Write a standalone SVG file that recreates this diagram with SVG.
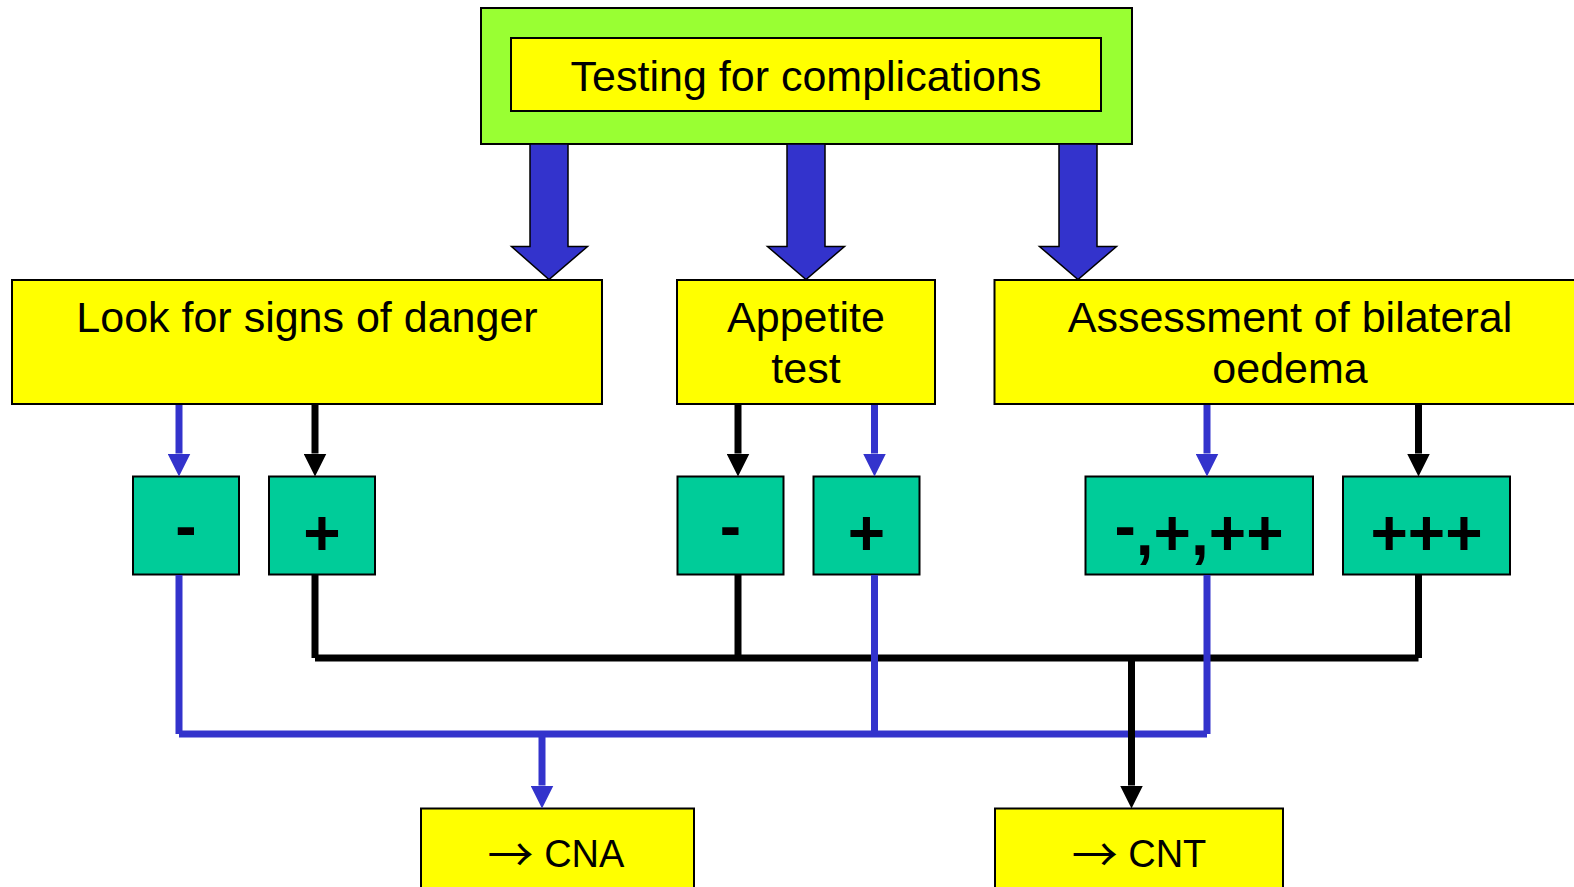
<svg xmlns="http://www.w3.org/2000/svg" width="1574" height="887" viewBox="0 0 1574 887">
  <style>
    .box { stroke: #000; stroke-width: 2; }
    .green { fill: #99FF33; }
    .yellow { fill: #FFFF00; }
    .teal { fill: #00CC99; }
    .lbl { font-family: "Liberation Sans", Arial, sans-serif; font-size: 43px; fill: #000; text-anchor: middle; }
    .sign { font-family: "Liberation Sans", Arial, sans-serif; font-size: 64px; font-weight: bold; fill: #000; text-anchor: middle; }
    .out { font-family: "Liberation Sans", Arial, sans-serif; font-size: 38px; fill: #000; text-anchor: middle; }
    .arr { font-family: "Noto Sans CJK JP", "DejaVu Sans", sans-serif; font-size: 46px; }
    .big { fill: #3333CC; stroke: #000; stroke-width: 1.5; }
    .blue { stroke: #3333CC; stroke-width: 7; fill: none; }
    .black { stroke: #000; stroke-width: 7; fill: none; }
  </style>
  <defs>
    <marker id="headBlue" markerUnits="userSpaceOnUse" markerWidth="23" markerHeight="23" viewBox="0 0 23 23" refX="0" refY="11.5" orient="auto">
      <path d="M0,0 L23,11.5 L0,23 z" fill="#3333CC"/>
    </marker>
    <marker id="headBlack" markerUnits="userSpaceOnUse" markerWidth="23" markerHeight="23" viewBox="0 0 23 23" refX="0" refY="11.5" orient="auto">
      <path d="M0,0 L23,11.5 L0,23 z" fill="#000"/>
    </marker>
  </defs>

  <rect width="1574" height="887" fill="#FFFFFF"/>

  <!-- top node -->
  <g id="testing">
    <rect class="box green" x="481" y="8" width="651" height="136"/>
    <rect class="box yellow" x="511" y="38" width="590" height="73"/>
    <text class="lbl" x="806" y="91">Testing for complications</text>
  </g>

  <!-- wide block arrows from the top node -->
  <g id="block-arrows">
    <polygon class="big" points="530,144 568,144 568,246.5 587.5,246.5 549,279.5 511.5,246.5 530,246.5"/>
    <polygon class="big" points="787,144 825,144 825,246.5 844.5,246.5 806,279.5 767.5,246.5 787,246.5"/>
    <polygon class="big" points="1059,144 1097,144 1097,246.5 1116.5,246.5 1078,279.5 1039.5,246.5 1059,246.5"/>
  </g>

  <!-- assessment nodes -->
  <g id="danger">
    <rect class="box yellow" x="12" y="280" width="590" height="124"/>
    <text class="lbl" x="307" y="332">Look for signs of danger</text>
  </g>
  <g id="appetite">
    <rect class="box yellow" x="677" y="280" width="258" height="124"/>
    <text class="lbl" x="806" y="332">Appetite</text>
    <text class="lbl" x="806" y="383">test</text>
  </g>
  <g id="oedema">
    <rect class="box yellow" x="994.5" y="280" width="592" height="124"/>
    <text class="lbl" x="1290" y="332">Assessment of bilateral</text>
    <text class="lbl" x="1290" y="383">oedema</text>
  </g>

  <!-- result nodes -->
  <g id="danger-neg">
    <rect class="box teal" x="133" y="476.5" width="106" height="98"/>
    <text class="sign" x="186" y="548">-</text>
  </g>
  <g id="danger-pos">
    <rect class="box teal" x="269" y="476.5" width="106" height="98"/>
    <text class="sign" x="322" y="555">+</text>
  </g>
  <g id="appetite-neg">
    <rect class="box teal" x="677.5" y="476.5" width="106" height="98"/>
    <text class="sign" x="730.5" y="548">-</text>
  </g>
  <g id="appetite-pos">
    <rect class="box teal" x="813.5" y="476.5" width="106" height="98"/>
    <text class="sign" x="866.5" y="555">+</text>
  </g>
  <g id="oedema-low">
    <rect class="box teal" x="1085.5" y="476.5" width="227.5" height="98"/>
    <text class="sign" x="1199" y="555"><tspan dy="-7">-</tspan><tspan dy="7">,+,++</tspan></text>
  </g>
  <g id="oedema-high">
    <rect class="box teal" x="1343" y="476.5" width="167" height="98"/>
    <text class="sign" x="1426.5" y="555">+++</text>
  </g>

  <!-- outcome nodes -->
  <g id="cna">
    <rect class="box yellow" x="421" y="808.5" width="273" height="90"/>
    <text class="out" x="556" y="867"><tspan class="arr" dy="4">→</tspan><tspan dy="-4"> CNA</tspan></text>
  </g>
  <g id="cnt">
    <rect class="box yellow" x="995" y="808.5" width="288" height="90"/>
    <text class="out" x="1139" y="867"><tspan class="arr" dy="4">→</tspan><tspan dy="-4"> CNT</tspan></text>
  </g>

  <!-- connectors -->
  <g id="connectors">
    <!-- node to result -->
    <line class="blue" x1="179" y1="405" x2="179" y2="453.5" marker-end="url(#headBlue)"/>
    <line class="black" x1="315" y1="405" x2="315" y2="453.5" marker-end="url(#headBlack)"/>
    <line class="black" x1="738" y1="405" x2="738" y2="453.5" marker-end="url(#headBlack)"/>
    <line class="blue" x1="874.5" y1="405" x2="874.5" y2="453.5" marker-end="url(#headBlue)"/>
    <line class="blue" x1="1207" y1="405" x2="1207" y2="453.5" marker-end="url(#headBlue)"/>
    <line class="black" x1="1418.5" y1="405" x2="1418.5" y2="453.5" marker-end="url(#headBlack)"/>

    <!-- black bus to CNT -->
    <line class="black" x1="315" y1="575" x2="315" y2="658"/>
    <line class="black" x1="738" y1="575" x2="738" y2="658"/>
    <line class="black" x1="1418.5" y1="575" x2="1418.5" y2="658"/>
    <line class="black" x1="315" y1="658" x2="1418.5" y2="658"/>

    <!-- blue bus to CNA -->
    <line class="blue" x1="179" y1="575" x2="179" y2="734"/>
    <line class="blue" x1="874.5" y1="575" x2="874.5" y2="734"/>
    <line class="blue" x1="1207" y1="575" x2="1207" y2="734"/>
    <line class="blue" x1="179" y1="734" x2="1207" y2="734"/>
    <line class="blue" x1="542" y1="734" x2="542" y2="785.5" marker-end="url(#headBlue)"/>

    <line class="black" x1="1131.5" y1="658" x2="1131.5" y2="785.5" marker-end="url(#headBlack)"/>
  </g>
</svg>
